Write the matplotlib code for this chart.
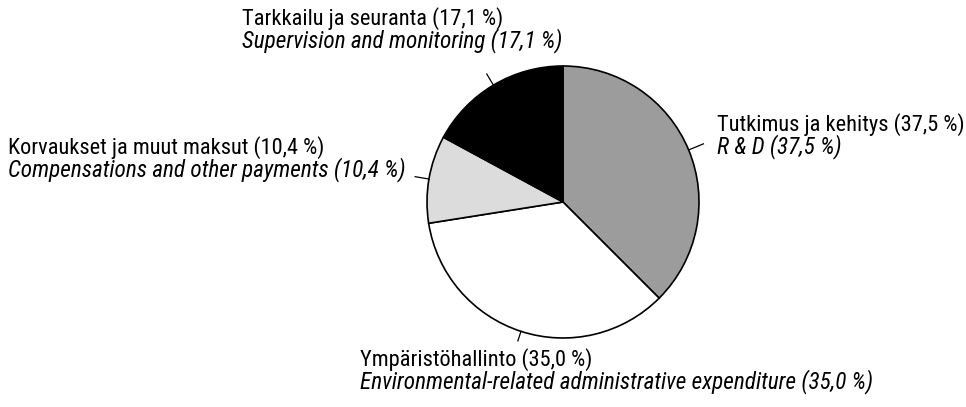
import numpy as np
import matplotlib
matplotlib.use("Agg")
import matplotlib.pyplot as plt
from matplotlib import font_manager

# ---- data ----
values = [37.5, 35.0, 10.4, 17.1]
labels_fi = ["Tutkimus ja kehitys", "Ympäristöhallinto",
             "Korvaukset ja muut maksut", "Tarkkailu ja seuranta"]
labels_en = ["R & D", "Environmental-related administrative expenditure",
             "Compensations and other payments", "Supervision and monitoring"]
colors = ["#9c9c9c", "#ffffff", "#dcdcdc", "#000000"]

names = {f.name for f in font_manager.fontManager.ttflist}
FONT = "DejaVu Sans"
for cand in ["Roboto Condensed", "Archivo Narrow", "Asap Condensed",
             "Barlow Semi Condensed", "Liberation Sans Narrow", "Arimo"]:
    if cand in names:
        FONT = cand
        break

W, H = 966, 407
fig = plt.figure(figsize=(W / 100, H / 100), dpi=100)
ax = fig.add_axes([0, 0, 1, 1])

cx, cy, R = 563, H - 202, 136
wedges, _ = ax.pie(values, colors=colors, startangle=90, counterclock=False,
                   center=(cx, cy), radius=R, frame=True,
                   wedgeprops=dict(edgecolor="black", linewidth=1.2))
ax.set_xlim(0, W)
ax.set_ylim(0, H)
ax.set_aspect("equal")
ax.axis("off")

def fmt(v):
    return f"({v:.1f} %)".replace(".", ",")

# fit font sizes so label widths resemble the reference
renderer = fig.canvas.get_renderer()
def fit(s, target, **kw):
    t = fig.text(0, 0, s, fontsize=10, family=FONT, **kw)
    wpx = t.get_window_extent(renderer).width
    t.remove()
    return 10 * target / wpx

fs_r = (fit(f"{labels_fi[3]} {fmt(values[3])}", 255)
        + fit(f"{labels_fi[2]} {fmt(values[2])}", 320)) / 2
fs_i = (fit(f"{labels_en[1]} {fmt(values[1])}", 513, style="italic")
        + fit(f"{labels_en[2]} {fmt(values[2])}", 397, style="italic")) / 2

# label layout: (x, y of first line centre from top, leader length)
layout = [
    (717, 125, 16),
    (360, 360, 10),
    (8, 148, 14),
    (242, 19, 13),
]
for w, v, fi, en, (tx, ty, ll) in zip(wedges, values, labels_fi, labels_en, layout):
    ang = np.deg2rad((w.theta1 + w.theta2) / 2)
    x0, y0 = cx + R * np.cos(ang), cy + R * np.sin(ang)
    x1, y1 = cx + (R + ll) * np.cos(ang), cy + (R + ll) * np.sin(ang)
    ax.plot([x0, x1], [y0, y1], color="black", lw=0.9)
    ax.text(tx, H - ty, f"{fi} {fmt(v)}", fontsize=fs_r, family=FONT,
            ha="left", va="center")
    ax.text(tx, H - ty - 22, f"{en} {fmt(v)}", fontsize=fs_i, family=FONT,
            style="italic", ha="left", va="center")

fig.savefig("out.png", dpi=100, facecolor="white")
